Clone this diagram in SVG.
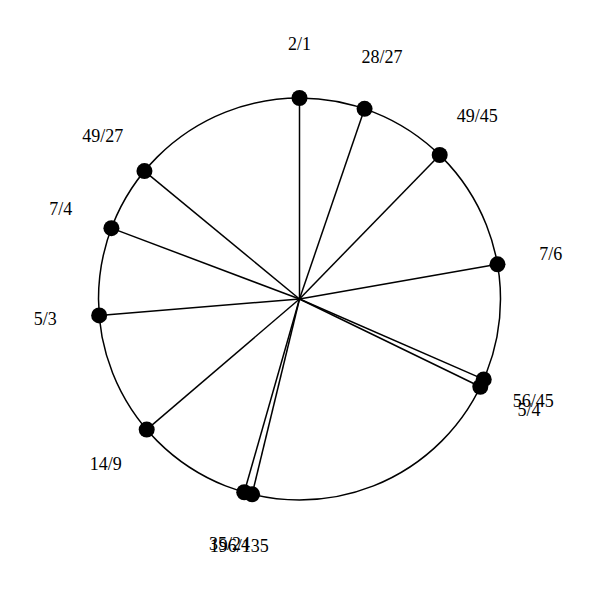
<svg xmlns="http://www.w3.org/2000/svg" width="600" height="600" viewBox="0 0 600 600">
<style>
.ring{fill:none;stroke:#000;stroke-width:1.5}
.spoke{stroke:#000;stroke-width:1.5}
.dot{fill:#000}
.lbl{font-family:"Liberation Serif","Times New Roman",serif;font-size:18px;fill:#000;text-anchor:middle}
</style>
<rect width="600" height="600" fill="#fff"/>
<circle class="ring" cx="299.5" cy="299" r="201"/>
<g id="connectors">
<line class="spoke" x1="299.5" y1="299" x2="299.5" y2="98"/>
<line class="spoke" x1="299.5" y1="299" x2="364.56" y2="108.82"/>
<line class="spoke" x1="299.5" y1="299" x2="439.7" y2="154.97"/>
<line class="spoke" x1="299.5" y1="299" x2="497.48" y2="264.31"/>
<line class="spoke" x1="299.5" y1="299" x2="483.72" y2="379.42"/>
<line class="spoke" x1="299.5" y1="299" x2="480.32" y2="386.78"/>
<line class="spoke" x1="299.5" y1="299" x2="244.25" y2="492.26"/>
<line class="spoke" x1="299.5" y1="299" x2="252.1" y2="494.33"/>
<line class="spoke" x1="299.5" y1="299" x2="146.7" y2="429.58"/>
<line class="spoke" x1="299.5" y1="299" x2="99.17" y2="315.44"/>
<line class="spoke" x1="299.5" y1="299" x2="111.41" y2="228.13"/>
<line class="spoke" x1="299.5" y1="299" x2="144.45" y2="171.09"/>
</g>
<g id="n-2-1"><circle class="dot" cx="299.5" cy="98" r="8"/><text class="lbl" x="299.5" y="49.5">2/1</text></g>
<g id="n-28-27"><circle class="dot" cx="364.56" cy="108.82" r="8"/><text class="lbl" x="382.04" y="63.23">28/27</text></g>
<g id="n-49-45"><circle class="dot" cx="439.7" cy="154.97" r="8"/><text class="lbl" x="477.37" y="121.77">49/45</text></g>
<g id="n-7-6"><circle class="dot" cx="497.48" cy="264.31" r="8"/><text class="lbl" x="550.67" y="260.48">7/6</text></g>
<g id="n-56-45"><circle class="dot" cx="483.72" cy="379.42" r="8"/><text class="lbl" x="533.21" y="406.53">56/45</text></g>
<g id="n-5-4"><circle class="dot" cx="480.32" cy="386.78" r="8"/><text class="lbl" x="528.9" y="415.86">5/4</text></g>
<g id="n-35-24"><circle class="dot" cx="244.25" cy="492.26" r="8"/><text class="lbl" x="229.4" y="549.68">35/24</text></g>
<g id="n-196-135"><circle class="dot" cx="252.1" cy="494.33" r="8"/><text class="lbl" x="239.37" y="552.31">196/135</text></g>
<g id="n-14-9"><circle class="dot" cx="146.7" cy="429.58" r="8"/><text class="lbl" x="105.64" y="470.17">14/9</text></g>
<g id="n-5-3"><circle class="dot" cx="99.17" cy="315.44" r="8"/><text class="lbl" x="45.35" y="325.36">5/3</text></g>
<g id="n-7-4"><circle class="dot" cx="111.41" cy="228.13" r="8"/><text class="lbl" x="60.88" y="214.59">7/4</text></g>
<g id="n-49-27"><circle class="dot" cx="144.45" cy="171.09" r="8"/><text class="lbl" x="102.8" y="142.23">49/27</text></g>
</svg>
